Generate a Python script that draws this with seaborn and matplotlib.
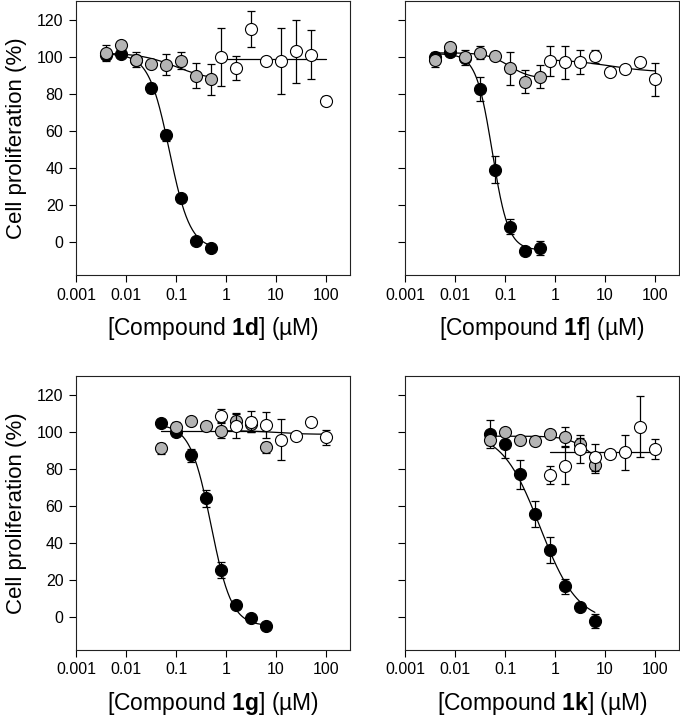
import numpy as np
import pandas as pd
import matplotlib
matplotlib.use('Agg')
import matplotlib.pyplot as plt
import seaborn as sns


# concentrations (uM), two-fold dilution series
conc_low_df = [0.0039, 0.0078, 0.0156, 0.0313, 0.0625, 0.125, 0.25, 0.5]
conc_low_gk = [0.049, 0.098, 0.195, 0.39, 0.78, 1.56, 3.125, 6.25]
conc_high = [0.78, 1.56, 3.125, 6.25, 12.5, 25, 50, 100]

# compound 1d
d_black_y = [101, 101.5, 98, 83, 57.5, 23.4, 0.2, -3.4]
d_black_err = [2, 2, 1.5, 2.5, 3, 2, 1.5, 1.5]
d_gray_y = [102, 106.3, 98.2, 96, 95.7, 97.8, 89.7, 87.6]
d_gray_err = [4.5, 1.5, 4, 1.5, 5.8, 4.8, 6.8, 8.5]
d_white_y = [99.6, 93.9, 115, 97.8, 97.8, 102.9, 101, 76.2]
d_white_err = [15.6, 6.5, 9.7, 2, 17.8, 17, 13.3, 2.5]

# compound 1f
f_black_y = [100, 102.3, 99, 82.5, 38.9, 8.1, -4.9, -3.4]
f_black_err = [2, 2, 2, 6.3, 7.3, 4, 2, 4]
f_gray_y = [98.2, 105, 99.6, 102, 100.5, 93.7, 86.5, 89.2]
f_gray_err = [4, 2, 4, 3.5, 1.5, 9, 6.3, 6]
f_white_y = [97.5, 96.8, 97.1, 100.2, 91.9, 93.5, 96.8, 87.7]
f_white_err = [8, 9, 6.5, 3.5, 1, 1, 1, 8.8]

# compound 1g
g_black_y = [104.7, 99.6, 87.2, 64, 25.4, 6.3, -0.7, -4.9]
g_black_err = [2, 2, 3.5, 4.5, 4.4, 1.5, 1.5, 2]
g_gray_y = [91, 102.3, 105.8, 102.9, 100.5, 105.5, 104, 91.5]
g_gray_err = [3, 3, 1, 1, 4, 4, 4, 3]
g_white_y = [108.6, 103.2, 105.4, 103.6, 95.7, 97.8, 105.4, 96.8]
g_white_err = [3.6, 6.7, 5.6, 7.1, 11.3, 1, 1, 4.3]

# compound 1k
k_black_y = [98.7, 93.3, 76.8, 55.5, 36.2, 16.4, 5, -2.2]
k_black_err = [7.7, 7.6, 7.9, 7, 7, 4, 1.5, 3.9]
k_gray_y = [95.7, 99.6, 95.7, 95.1, 98.7, 97.3, 93.3, 82]
k_gray_err = [3, 1, 1, 1.5, 1, 5, 3, 4.5]
k_white_y = [76.6, 81.6, 90.6, 86.1, 87.9, 88.8, 102.7, 90.6]
k_white_err = [4.8, 10, 7.6, 7.2, 1, 9.5, 16.5, 5.4]

# fitted curves: (top, bottom, IC50, hill)
d_fits = [(101.5, -4, 0.074, 2.1), (102, 87, 0.1, 1.2), (98.7, 98.7, 1, 1)]
f_fits = [(101.5, -4.5, 0.0555, 2.7), (102, 88, 0.12, 2), (98.5, 91.5, 12, 1)]
g_fits = [(104, -5, 0.5, 2.1), (100.3, 100.3, 1, 1), (100.5, 98.5, 10, 1.5)]
k_fits = [(100, -3, 0.5, 1.15), (97.5, 80, 5, 2), (89.2, 89.2, 1, 1)]

compounds = ['1d', '1f', '1g', '1k']
x_ticks = [0.001, 0.01, 0.1, 1, 10, 100]
x_tick_labels = ['0.001', '0.01', '0.1', '1', '10', '100']
y_ticks = [0, 20, 40, 60, 80, 100, 120]

panels = [
    (conc_low_df, [(d_black_y, d_black_err), (d_gray_y, d_gray_err), (d_white_y, d_white_err)], d_fits),
    (conc_low_df, [(f_black_y, f_black_err), (f_gray_y, f_gray_err), (f_white_y, f_white_err)], f_fits),
    (conc_low_gk, [(g_black_y, g_black_err), (g_gray_y, g_gray_err), (g_white_y, g_white_err)], g_fits),
    (conc_low_gk, [(k_black_y, k_black_err), (k_gray_y, k_gray_err), (k_white_y, k_white_err)], k_fits),
]

sns.set_style('ticks')
plt.rcParams['font.family'] = ['Liberation Sans', 'DejaVu Sans']
plt.rcParams['mathtext.fontset'] = 'custom'
plt.rcParams['mathtext.rm'] = 'Liberation Sans'
plt.rcParams['mathtext.bf'] = 'Liberation Sans:bold'
plt.rcParams['text.color'] = 'black'
plt.rcParams['axes.labelcolor'] = 'black'


def hill(x, top, bottom, ic50, h):
    return bottom + (top - bottom) / (1 + (x / ic50) ** h)


fig = plt.figure(figsize=(6.8, 7.19), dpi=100)
positions = [(76, 1), (405, 1), (76, 376), (405, 376)]
face_colors = ['black', '#b4b4b4', 'white']

for i, (cmp, (low_conc, series, fits)) in enumerate(zip(compounds, panels)):
    px, py = positions[i]
    ax = fig.add_axes([px / 680, 1 - (py + 274) / 719, 274 / 680, 274 / 719])
    ax.set_xscale('log')
    concs = [low_conc, low_conc, conc_high]
    for j, ((yv, ye), fit, fc) in enumerate(zip(series, fits, face_colors)):
        xs = np.array(concs[j])
        xfit = np.logspace(np.log10(xs.min()), np.log10(xs.max()), 200)
        sns.lineplot(x=xfit, y=hill(xfit, *fit), ax=ax, color='black',
                     linewidth=0.9, zorder=1)
        ax.errorbar(xs, yv, yerr=ye, fmt='none', ecolor='black',
                    elinewidth=0.9, capsize=3, capthick=0.9, zorder=2 + 2 * j)
        sns.scatterplot(x=xs, y=yv, ax=ax, color=fc, edgecolor='black',
                        linewidth=0.8, s=75, zorder=3 + 2 * j)
    ax.set_xlim(0.001, 300)
    ax.set_ylim(-18, 130)
    ax.set_xticks(x_ticks, x_tick_labels)
    ax.minorticks_off()
    ax.set_yticks(y_ticks)
    ax.tick_params(direction='out', length=5, width=0.8, labelsize=11.5,
                   pad=4, colors='black')
    for sp in ax.spines.values():
        sp.set_linewidth(0.8)
        sp.set_color('#222222')
    ax.set_xlabel('[Compound $\\mathbf{%s}$] (µM)' % cmp, fontsize=16.5)
    ax.xaxis.set_label_coords(0.5, -0.145)
    if i % 2 == 0:
        ax.set_ylabel('Cell proliferation (%)', fontsize=16)
        ax.yaxis.set_label_coords(-0.18, 0.5)
    else:
        ax.set_ylabel('')
        ax.set_yticklabels([])

fig.savefig('out.png', dpi=100)
